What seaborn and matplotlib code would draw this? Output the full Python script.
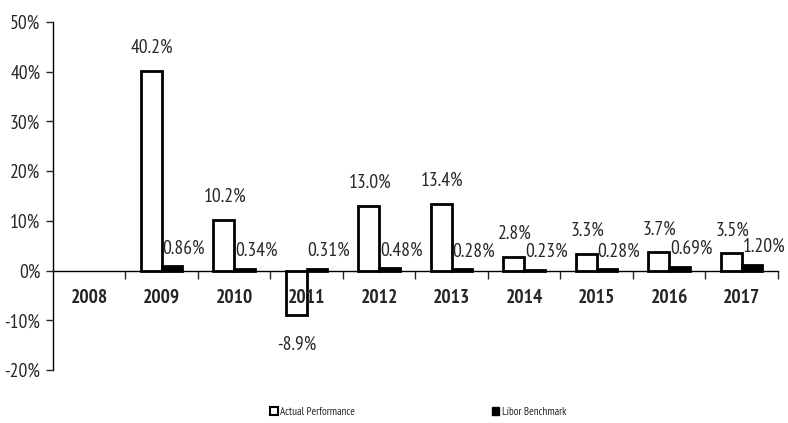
import numpy as np
import pandas as pd
import matplotlib
matplotlib.use("Agg")
import matplotlib.pyplot as plt
from matplotlib.ticker import FixedLocator, FuncFormatter
import seaborn as sns

# ==========================================
# DATA
# ==========================================

years = ["2008", "2009", "2010", "2011", "2012", "2013", "2014", "2015", "2016", "2017"]
actual = [np.nan, 40.2, 10.2, -8.9, 13.0, 13.4, 2.8, 3.3, 3.7, 3.5]
libor = [np.nan, 0.86, 0.34, 0.31, 0.48, 0.28, 0.23, 0.28, 0.69, 1.20]
series = ["Actual Performance", "Libor Benchmark"]

df = pd.DataFrame({
    "Year": years * 2,
    "Value": actual + libor,
    "Series": [series[0]] * len(years) + [series[1]] * len(years),
})

# ==========================================
# STYLE
# ==========================================

sns.set_style("white")
plt.rcParams["font.family"] = ["Liberation Sans Narrow", "Arial Narrow", "PT Sans Narrow",
                               "Roboto Condensed", "Archivo Narrow", "DejaVu Sans"]

fig = plt.figure(figsize=(7.88, 4.23), dpi=100)
ax = fig.add_axes([0.067, 0.125, 0.92, 0.823])

sns.barplot(
    data=df,
    x="Year",
    y="Value",
    hue="Series",
    order=years,
    hue_order=series,
    palette={series[0]: "white", series[1]: "black"},
    edgecolor="black",
    linewidth=2,
    width=0.57,
    gap=0,
    errorbar=None,
    ax=ax,
)
ax.set_axisbelow(False)

# ==========================================
# VALUE LABELS
# ==========================================

for i, cont in enumerate(ax.containers):
    for bar in cont:
        h = bar.get_height()
        if np.isnan(h):
            continue
        xc = bar.get_x() + bar.get_width() / 2
        if i == 0:
            txt = f"{h:.1f}%"
            dy = 23 if h >= 0 else -30
            dx = 1
        else:
            txt = f"{h:.2f}%"
            dy = 18
            dx = 12
        ax.annotate(txt, (xc, h), xytext=(dx, dy), textcoords="offset pixels",
                    ha="center", va="center", fontsize=14)

# ==========================================
# AXES
# ==========================================

ax.set_xlim(-0.5, len(years) - 0.5)
ax.set_ylim(-20, 50)
ax.set_yticks(range(-20, 51, 10))
ax.yaxis.set_major_formatter(FuncFormatter(lambda v, p: f"{v:.0f}%"))
ax.tick_params(axis="y", labelsize=14, length=5, width=1, direction="out", left=True, pad=4)

ax.spines["top"].set_visible(False)
ax.spines["right"].set_visible(False)
ax.spines["bottom"].set_position(("data", 0))
for s in ["left", "bottom"]:
    ax.spines[s].set_color("black")
    ax.spines[s].set_linewidth(1)

ax.xaxis.set_minor_locator(FixedLocator(np.arange(0.5, len(years), 1)))
ax.tick_params(axis="x", which="major", length=0, pad=13, labelsize=14)
ax.tick_params(axis="x", which="minor", length=6, width=1, direction="out", bottom=True)
for lbl in ax.get_xticklabels():
    lbl.set_fontweight("bold")

ax.set_xlabel("")
ax.set_ylabel("")

# ==========================================
# LEGEND
# ==========================================

ax.get_legend().remove()
handles = [
    plt.Rectangle((0, 0), 1, 1, facecolor="white", edgecolor="black", linewidth=1.5),
    plt.Rectangle((0, 0), 1, 1, facecolor="black", edgecolor="black"),
]
fig.legend(handles, series, loc="lower left", bbox_to_anchor=(0.33, -0.01),
           ncol=2, frameon=False, fontsize=8, handlelength=0.7, handleheight=0.7,
           handletextpad=0.2, columnspacing=12.3)

plt.savefig("out.png", dpi=100)
